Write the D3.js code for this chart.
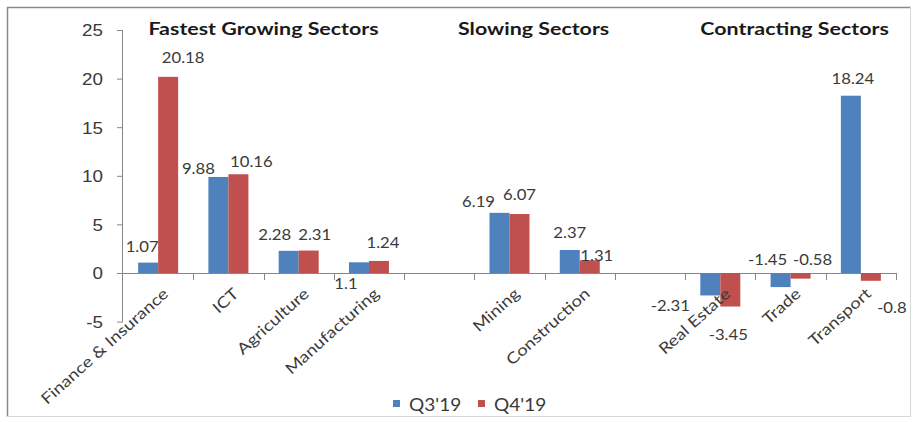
<!DOCTYPE html>
<html>
<head>
<meta charset="utf-8">
<script src="https://cdn.jsdelivr.net/npm/d3@7"></script>
<style>
  html, body { margin: 0; padding: 0; background: #fff; }
  svg { display: block; font-family: Lato, "Open Sans", sans-serif; }
</style>
</head>
<body>
<svg id="chart" width="915" height="422"></svg>
<script>
// ---- data ----
const categories = ["Finance & Insurance", "ICT", "Agriculture", "Manufacturing", "",
                    "Mining", "Construction", "", "Real Estate", "Trade", "Transport"];
const seriesNames = ["Q3'19", "Q4'19"];
const q3Values = [1.07, 9.88, 2.28, 1.1, null, 6.19, 2.37, null, -2.31, -1.45, 18.24];
const q4Values = [20.18, 10.16, 2.31, 1.24, null, 6.07, 1.31, null, -3.45, -0.58, -0.8];
const yTicks = [-5, 0, 5, 10, 15, 20, 25];
const groupTitles = ["Fastest Growing Sectors", "Slowing Sectors", "Contracting Sectors"];
const groupFirst = [0, 5, 8];
const groupLast = [3, 6, 10];

// ---- label nudges (pixels, relative to bar end) ----
const q3LabelNudge = [[-6, -16], [-20, -8], [-14, -16], [-13, 21], null, [-21, -11], [0, -17], null, [-40, 10], [-13, -27], [2, -17]];
const q4LabelNudge = [[15, -19], [13, -12], [6, -16], [4, -18], null, [0, -19], [7, -5], null, [-2, 28], [12, -19], [21, 27]];
const groupTitleNudge = [0, -11, 4];

const colors = ["#4F81BD", "#C0504D"];
const textColor = "#3a3a3a";

const svg = d3.select("#chart");
const W = 915, H = 422;

// frame
svg.append("rect").attr("x", 0).attr("y", 0).attr("width", W).attr("height", H).attr("fill", "#fff");
svg.append("line").attr("x1", 7).attr("x2", 911).attr("y1", 7.5).attr("y2", 7.5).attr("stroke", "#8a8a8a").attr("stroke-width", 1.5);
svg.append("line").attr("x1", 7.5).attr("x2", 7.5).attr("y1", 7).attr("y2", 417).attr("stroke", "#8a8a8a").attr("stroke-width", 1.5);
svg.append("line").attr("x1", 910.5).attr("x2", 910.5).attr("y1", 7).attr("y2", 417).attr("stroke", "#d8d8d8").attr("stroke-width", 1);
svg.append("line").attr("x1", 7).attr("x2", 911).attr("y1", 416.5).attr("y2", 416.5).attr("stroke", "#d8d8d8").attr("stroke-width", 1);

const plot = { left: 123, right: 896, top: 30, bottom: 321.6 };

const x = d3.scaleBand().domain(d3.range(categories.length)).range([plot.left, plot.right]).paddingInner(0).paddingOuter(0);
const y = d3.scaleLinear().domain([-5, 25]).range([plot.bottom, plot.top]);
const barW = 20;
const xs = d3.scaleBand().domain([0, 1]).range([0, barW * 2]);

// y axis
const yAxis = svg.append("g").attr("transform", `translate(${plot.left},0)`)
  .call(d3.axisLeft(y).tickValues(yTicks).tickSize(6).tickPadding(13).tickFormat(d => String(d)));
yAxis.select(".domain").attr("stroke", "#868686").attr("d", `M-0.5,${plot.top}V${plot.bottom}`);
yAxis.selectAll(".tick line").attr("stroke", "#868686");
yAxis.selectAll(".tick text")
  .attr("x", null).attr("dy", "0.36em")
  .attr("transform", "translate(-20,0) scale(1.14,1)")
  .attr("fill", textColor).attr("font-size", 16.5);

// x axis at zero
const xAxisG = svg.append("g").attr("transform", `translate(0,${y(0)})`);
xAxisG.append("line").attr("x1", plot.left).attr("x2", plot.right).attr("y1", 0.5).attr("y2", 0.5).attr("stroke", "#868686");
xAxisG.selectAll("line.tk").data(d3.range(1, categories.length + 1)).join("line").attr("class", "tk")
  .attr("x1", i => Math.round(plot.left + i * x.bandwidth()) + 0.5)
  .attr("x2", i => Math.round(plot.left + i * x.bandwidth()) + 0.5)
  .attr("y1", 0).attr("y2", 7).attr("stroke", "#868686");

// bars
const series = [q3Values, q4Values];
const nudges = [q3LabelNudge, q4LabelNudge];
series.forEach((vals, s) => {
  const data = vals.map((v, i) => ({ v, i })).filter(d => d.v !== null);
  const bx = d => x(d.i) + (x.bandwidth() - barW * 2) / 2 + xs(s);
  svg.append("g").selectAll("rect").data(data).join("rect")
    .attr("x", bx)
    .attr("width", barW)
    .attr("y", d => y(Math.max(0, d.v)))
    .attr("height", d => Math.abs(y(d.v) - y(0)))
    .attr("fill", colors[s]);
  svg.append("g").selectAll("text").data(data).join("text")
    .attr("transform", d => `translate(${bx(d) + barW / 2 + nudges[s][d.i][0]},${y(d.v) + nudges[s][d.i][1]}) scale(1.15,1)`)
    .attr("dy", "0.36em")
    .attr("text-anchor", "middle")
    .attr("font-size", 14.5)
    .attr("fill", textColor)
    .text(d => String(d.v));
});

// category labels
svg.append("g").selectAll("text").data(categories.map((c, i) => ({ c, i })).filter(d => d.c !== ""))
  .join("text")
  .attr("transform", d => `translate(${x(d.i) + x.bandwidth() / 2 + 4},${y(0) + 14}) rotate(-42) scale(1.2,1)`)
  .attr("text-anchor", "end")
  .attr("dy", "0.7em")
  .attr("font-size", 15.5)
  .attr("fill", textColor)
  .text(d => d.c);

// group titles
svg.append("g").selectAll("text").data(groupTitles.map((t, g) => ({ t, g })))
  .join("text")
  .attr("transform", d => `translate(${(x(groupFirst[d.g]) + x(groupLast[d.g]) + x.bandwidth()) / 2 + groupTitleNudge[d.g]},35) scale(1.26,1)`)
  .attr("text-anchor", "middle")
  .attr("font-size", 17)
  .attr("font-weight", "bold")
  .attr("fill", "#1a1a1a")
  .text(d => d.t);

// legend
const legend = svg.append("g").attr("transform", "translate(393,0)");
const legendItems = legend.selectAll("g").data(seriesNames).join("g")
  .attr("transform", (d, i) => `translate(${i * 85},0)`);
legendItems.append("rect").attr("x", 0).attr("y", 400).attr("width", 7).attr("height", 7).attr("fill", (d, i) => colors[i]);
legendItems.append("text").attr("transform", "translate(16,411) scale(1.12,1)").attr("font-size", 17).attr("fill", textColor).text(d => d);
</script>
</body>
</html>
